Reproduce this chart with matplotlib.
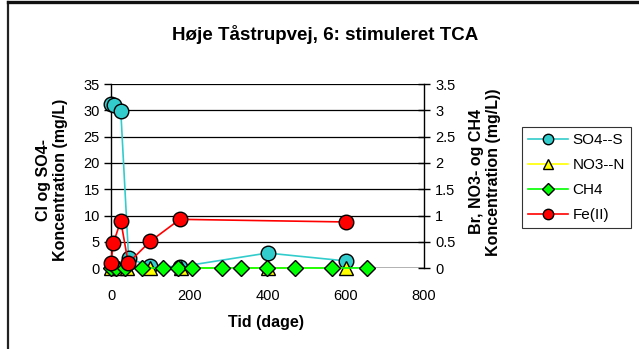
import matplotlib
matplotlib.use("Agg")
import matplotlib.pyplot as plt
from matplotlib.lines import Line2D

plt.rcParams['font.family'] = ['Liberation Sans', 'DejaVu Sans']

# Data (day, value)
so4_days = [0, 8, 25, 45, 100, 177, 400, 600]
so4_vals = [31.2, 31.0, 29.9, 1.9, 0.4, 0.3, 2.9, 1.4]          # left axis (mg/L)

no3_days = [0, 20, 40, 100, 180, 400, 600]
no3_vals = [0, 0, 0, 0, 0, 0, 0]                                 # right axis

ch4_days = [0, 14, 35, 78, 134, 170, 206, 283, 332, 398, 470, 564, 655]
ch4_vals = [0, 0, 0, 0, 0, 0, 0, 0, 0, 0, 0, 0, 0]              # right axis

fe_days = [0, 6, 25, 44, 100, 176, 600]
fe_vals = [0.10, 0.48, 0.90, 0.10, 0.51, 0.93, 0.88]             # right axis

labels = ['SO4--S', 'NO3--N', 'CH4', 'Fe(II)']
title = 'Høje Tåstrupvej, 6: stimuleret TCA'

W, H = 639, 349
fig = plt.figure(figsize=(W / 100, H / 100), dpi=100)
fig.patch.set_facecolor('white')

left, right = 111 / W, 424 / W
top, bottom = 1 - 84 / H, 1 - 268.3 / H
ax = fig.add_axes([left, bottom, right - left, top - bottom])
ax2 = ax.twinx()

# frame lines of chart area
fig.add_artist(Line2D([8 / W, 8 / W], [-0.1, 1 - 2 / H], color='#222222', lw=1.6, transform=fig.transFigure))
fig.add_artist(Line2D([8 / W, 1.1], [1 - 2 / H, 1 - 2 / H], color='#111111', lw=2.4, transform=fig.transFigure))

ms = 10.5
ax.plot(so4_days, so4_vals, color='#33CCCC', lw=1.2, marker='o', ms=ms,
        mfc='#33CCCC', mec='black', mew=1.0, clip_on=False, zorder=3)
ax2.plot(no3_days, no3_vals, color='#FFFF00', lw=1.2, marker='^', ms=ms,
         mfc='#FFFF00', mec='black', mew=1.0, clip_on=False, zorder=3)
ax2.plot(ch4_days, ch4_vals, color='#00FF00', lw=1.2, marker='D', ms=8.5,
         mfc='#00FF00', mec='black', mew=1.0, clip_on=False, zorder=4)
ax2.plot(fe_days, fe_vals, color='#FF0000', lw=1.2, marker='o', ms=ms,
         mfc='#FF0000', mec='black', mew=1.0, clip_on=False, zorder=5)

ax.set_xlim(0, 800)
ax.set_ylim(0, 35)
ax2.set_ylim(0, 3.5)
ax.set_xticks([0, 200, 400, 600, 800])
ax.set_yticks(range(0, 36, 5))
ax2.set_yticks([0, 0.5, 1, 1.5, 2, 2.5, 3, 3.5])
ax2.set_yticklabels(['0', '0.5', '1', '1.5', '2', '2.5', '3', '3.5'])

for a in (ax, ax2):
    for s in ('top', 'bottom'):
        a.spines[s].set_visible(False)
    a.spines['left'].set_color('black')
    a.spines['right'].set_color('black')
    a.spines['left'].set_linewidth(1.0)
    a.spines['right'].set_linewidth(1.0)
ax.spines['right'].set_visible(False)
ax2.spines['left'].set_visible(False)

ax.yaxis.grid(True, color='black', lw=0.9)
ax.set_axisbelow(True)
ax.axhline(0, color='black', lw=1.0, zorder=1)

tfs = 10.5
ax.tick_params(axis='y', direction='out', length=5, width=1, labelsize=tfs, pad=3)
ax2.tick_params(axis='y', direction='inout', length=8, width=1, labelsize=tfs, pad=4)
ax.tick_params(axis='x', direction='out', length=0, labelsize=tfs, pad=15)

lfs = 11.5
fig.text(52 / W, 1 - 180 / H, 'Cl og SO4-\nKoncentration (mg/L)', fontsize=lfs, fontweight='bold',
         rotation=90, ha='center', va='center', multialignment='center', linespacing=1.15)
fig.text(485 / W, 1 - 172 / H, 'Br, NO3- og CH4\nKoncentration (mg/L))', fontsize=lfs, fontweight='bold',
         rotation=90, ha='center', va='center', multialignment='center', linespacing=1.15)
fig.text(266 / W, 1 - 322 / H, 'Tid (dage)', fontsize=lfs, fontweight='bold', ha='center', va='center')

fig.text(325 / W, 1 - 35 / H, title, fontsize=13.5, fontweight='bold', ha='center', va='center')

handles = [
    Line2D([], [], color='#33CCCC', marker='o', ms=7.5, mfc='#33CCCC', mec='black', lw=1.2),
    Line2D([], [], color='#FFFF00', marker='^', ms=7.5, mfc='#FFFF00', mec='black', lw=1.2),
    Line2D([], [], color='#00FF00', marker='D', ms=6.5, mfc='#00FF00', mec='black', lw=1.2),
    Line2D([], [], color='#FF0000', marker='o', ms=7.5, mfc='#FF0000', mec='black', lw=1.2),
]
leg = fig.legend(handles, labels, loc='upper left', bbox_to_anchor=(522 / W, 1 - 127 / H),
                 fontsize=11, frameon=True, fancybox=False, edgecolor='black',
                 labelspacing=0.72, handlelength=2.6, handletextpad=0.3,
                 borderpad=0.4, borderaxespad=0)
leg.get_frame().set_linewidth(0.8)

fig.savefig('out.png', dpi=100, facecolor='white')
